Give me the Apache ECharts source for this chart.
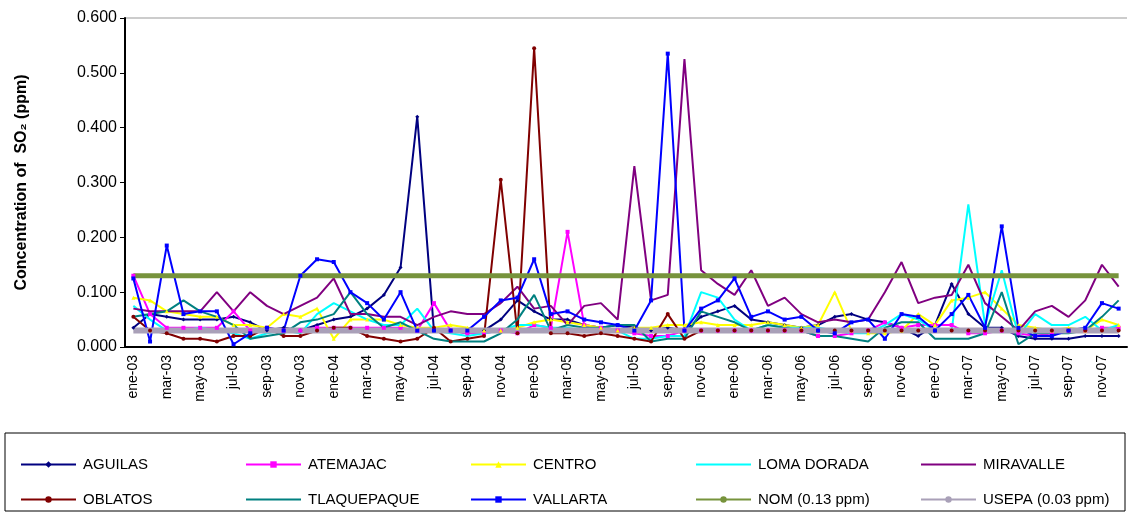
<!DOCTYPE html>
<html><head><meta charset="utf-8">
<script src="https://cdn.jsdelivr.net/npm/echarts@6/dist/echarts.min.js"></script>
<style>html,body{margin:0;padding:0;background:#fff}#c{width:1129px;height:512px}</style>
</head><body><div id="c"></div>
<script>
var yrs = ['03', '04', '05', '06', '07'];
var mons = ['ene', 'feb', 'mar', 'abr', 'may', 'jun', 'jul', 'ago', 'sep', 'oct', 'nov', 'dic'];
var months = [];
for (var y = 0; y < yrs.length; y++) for (var m = 0; m < 12; m++) months.push(mons[m] + '-' + yrs[y]);

var aguilas = [0.035,0.06,0.055,0.05,0.05,0.05,0.055,0.045,0.03,0.035,0.03,0.04,0.05,0.055,0.07,0.095,0.145,0.42,0.03,0.03,0.025,0.03,0.05,0.085,0.065,0.05,0.05,0.04,0.035,0.04,0.035,0.03,0.035,0.03,0.055,0.065,0.075,0.05,0.045,0.04,0.035,0.04,0.055,0.06,0.05,0.045,0.035,0.02,0.04,0.115,0.06,0.035,0.035,0.02,0.015,0.015,0.015,0.02,0.02,0.02];
var atemajac = [0.13,0.06,0.035,0.035,0.035,0.035,0.065,0.03,0.035,0.03,0.03,0.035,0.035,0.035,0.035,0.035,0.035,0.03,0.08,0.03,0.025,0.025,0.03,0.025,0.04,0.035,0.21,0.04,0.035,0.03,0.025,0.02,0.02,0.03,0.03,0.03,0.03,0.03,0.03,0.03,0.03,0.02,0.02,0.025,0.03,0.045,0.035,0.04,0.04,0.04,0.025,0.025,0.03,0.025,0.02,0.025,0.03,0.03,0.035,0.035];
var centro = [0.09,0.085,0.065,0.06,0.055,0.055,0.04,0.04,0.035,0.06,0.055,0.07,0.015,0.05,0.05,0.05,0.04,0.035,0.035,0.04,0.035,0.03,0.03,0.035,0.045,0.05,0.045,0.04,0.035,0.03,0.035,0.035,0.04,0.04,0.045,0.04,0.04,0.04,0.045,0.04,0.035,0.04,0.1,0.03,0.025,0.025,0.03,0.06,0.04,0.085,0.09,0.1,0.07,0.04,0.035,0.03,0.035,0.03,0.05,0.04];
var lomaDorada = [0.075,0.05,0.03,0.03,0.035,0.03,0.025,0.015,0.025,0.03,0.025,0.06,0.08,0.065,0.05,0.04,0.04,0.07,0.03,0.025,0.02,0.025,0.03,0.04,0.04,0.035,0.035,0.03,0.035,0.03,0.015,0.015,0.02,0.02,0.1,0.09,0.05,0.03,0.04,0.035,0.035,0.035,0.03,0.025,0.025,0.04,0.06,0.05,0.03,0.03,0.26,0.04,0.14,0.02,0.06,0.04,0.04,0.055,0.03,0.04];
var miravalle = [0.07,0.065,0.065,0.065,0.065,0.1,0.065,0.1,0.075,0.06,0.075,0.09,0.125,0.06,0.06,0.055,0.055,0.04,0.055,0.065,0.06,0.06,0.08,0.11,0.07,0.075,0.04,0.075,0.08,0.05,0.33,0.085,0.095,0.525,0.14,0.115,0.095,0.14,0.075,0.09,0.06,0.045,0.05,0.045,0.05,0.1,0.155,0.08,0.09,0.095,0.15,0.08,0.055,0.03,0.065,0.075,0.055,0.085,0.15,0.11];
var oblatos = [0.055,0.03,0.025,0.015,0.015,0.01,0.02,0.02,0.035,0.02,0.02,0.03,0.035,0.035,0.02,0.015,0.01,0.015,0.035,0.01,0.015,0.02,0.305,0.025,0.545,0.025,0.025,0.02,0.025,0.02,0.015,0.01,0.06,0.015,0.03,0.03,0.03,0.03,0.03,0.03,0.03,0.03,0.03,0.03,0.03,0.03,0.03,0.03,0.03,0.03,0.03,0.03,0.03,0.03,0.03,0.03,0.03,0.03,0.03,0.03];
var tlaquepaque = [0.055,0.06,0.065,0.085,0.065,0.055,0.04,0.015,0.02,0.025,0.045,0.05,0.06,0.1,0.06,0.035,0.045,0.03,0.015,0.01,0.01,0.01,0.025,0.05,0.095,0.03,0.04,0.035,0.035,0.04,0.04,0.01,0.015,0.015,0.065,0.055,0.045,0.03,0.04,0.035,0.03,0.02,0.02,0.015,0.01,0.035,0.045,0.045,0.015,0.015,0.015,0.025,0.1,0.005,0.025,0.025,0.025,0.03,0.055,0.085];
var vallarta = [0.125,0.01,0.185,0.06,0.065,0.065,0.005,0.025,0.035,0.03,0.13,0.16,0.155,0.1,0.08,0.05,0.1,0.03,0.03,0.03,0.03,0.055,0.085,0.09,0.16,0.06,0.065,0.05,0.045,0.04,0.03,0.085,0.535,0.03,0.07,0.085,0.125,0.055,0.065,0.05,0.055,0.03,0.025,0.045,0.05,0.015,0.06,0.055,0.03,0.06,0.095,0.035,0.22,0.035,0.02,0.02,0.03,0.035,0.08,0.07];
var nomLimit = 0.13;
var usepaLimit = 0.03;

var legendNames = ['AGUILAS', 'ATEMAJAC', 'CENTRO', 'LOMA DORADA', 'MIRAVALLE', 'OBLATOS', 'TLAQUEPAQUE', 'VALLARTA', 'NOM (0.13 ppm)', 'USEPA (0.03 ppm)'];

function flat(v) { return months.map(function () { return v; }); }

var xPath = 'path://M0,0L10,10M10,0L0,10';
function station(name, color, symbol, data) {
	return {
		name: name, type: 'line', data: data, symbol: symbol, symbolSize: 4,
		itemStyle: { color: color }, lineStyle: { color: color, width: 2 }
	};
}

// one legend per item so the columns line up like the original
var legends = legendNames.map(function (n, i) {
	return {
		data: [n], left: 15 + (i % 5) * 225, top: i < 5 ? 452 : 487,
		itemWidth: 55, itemHeight: 8, itemGap: 0,
		textStyle: { fontSize: 15, color: '#000', padding: [0, 0, 0, 2] }
	};
});

var chart = echarts.init(document.getElementById('c'));
chart.setOption({
	animation: false,
	textStyle: { fontFamily: 'Liberation Sans, Arial' },
	grid: { left: 125, right: 2, top: 18, height: 329 },
	xAxis: {
		type: 'category', data: months, boundaryGap: true,
		axisLine: { lineStyle: { color: '#000', width: 2 } },
		axisTick: { interval: 1, lineStyle: { color: '#000' } },
		axisLabel: { interval: 1, rotate: 90, color: '#000', fontSize: 14 }
	},
	yAxis: {
		type: 'value', min: 0, max: 0.6, interval: 0.1,
		name: 'Concentration of  SO\u2082 (ppm)', nameLocation: 'middle', nameGap: 95,
		nameTextStyle: { fontWeight: 'bold', fontSize: 16, color: '#000' },
		axisLine: { show: true, lineStyle: { color: '#000', width: 2 } },
		axisTick: { show: true, lineStyle: { color: '#000' } },
		axisLabel: { color: '#000', fontSize: 16, formatter: function (v) { return v.toFixed(3); } },
		splitLine: { show: false }
	},
	graphic: [
		{ type: 'line', shape: { x1: 125, y1: 18, x2: 1127, y2: 18 }, style: { stroke: '#999', lineWidth: 1 } },
		{ type: 'rect', shape: { x: 5, y: 433, width: 1120, height: 78 }, style: { fill: 'none', stroke: '#000', lineWidth: 1 } }
	],
	legend: legends,
	series: [
		station('AGUILAS', '#000080', 'diamond', aguilas),
		station('ATEMAJAC', '#ff00ff', 'rect', atemajac),
		station('CENTRO', '#ffff00', 'triangle', centro),
		station('LOMA DORADA', '#00ffff', xPath, lomaDorada),
		station('MIRAVALLE', '#800080', xPath, miravalle),
		station('OBLATOS', '#800000', 'circle', oblatos),
		station('TLAQUEPAQUE', '#008080', 'path://M5,0L5,10M0,5L10,5', tlaquepaque),
		station('VALLARTA', '#0000ff', 'rect', vallarta),
		{ name: 'NOM (0.13 ppm)', type: 'line', data: flat(nomLimit), symbol: 'none', lineStyle: { color: '#77933c', width: 5 }, itemStyle: { color: '#77933c' } },
		{ name: 'USEPA (0.03 ppm)', type: 'line', data: flat(usepaLimit), symbol: 'none', lineStyle: { color: '#a9a0b8', width: 6 }, itemStyle: { color: '#a9a0b8' } }
	]
});
</script>
</body></html>
